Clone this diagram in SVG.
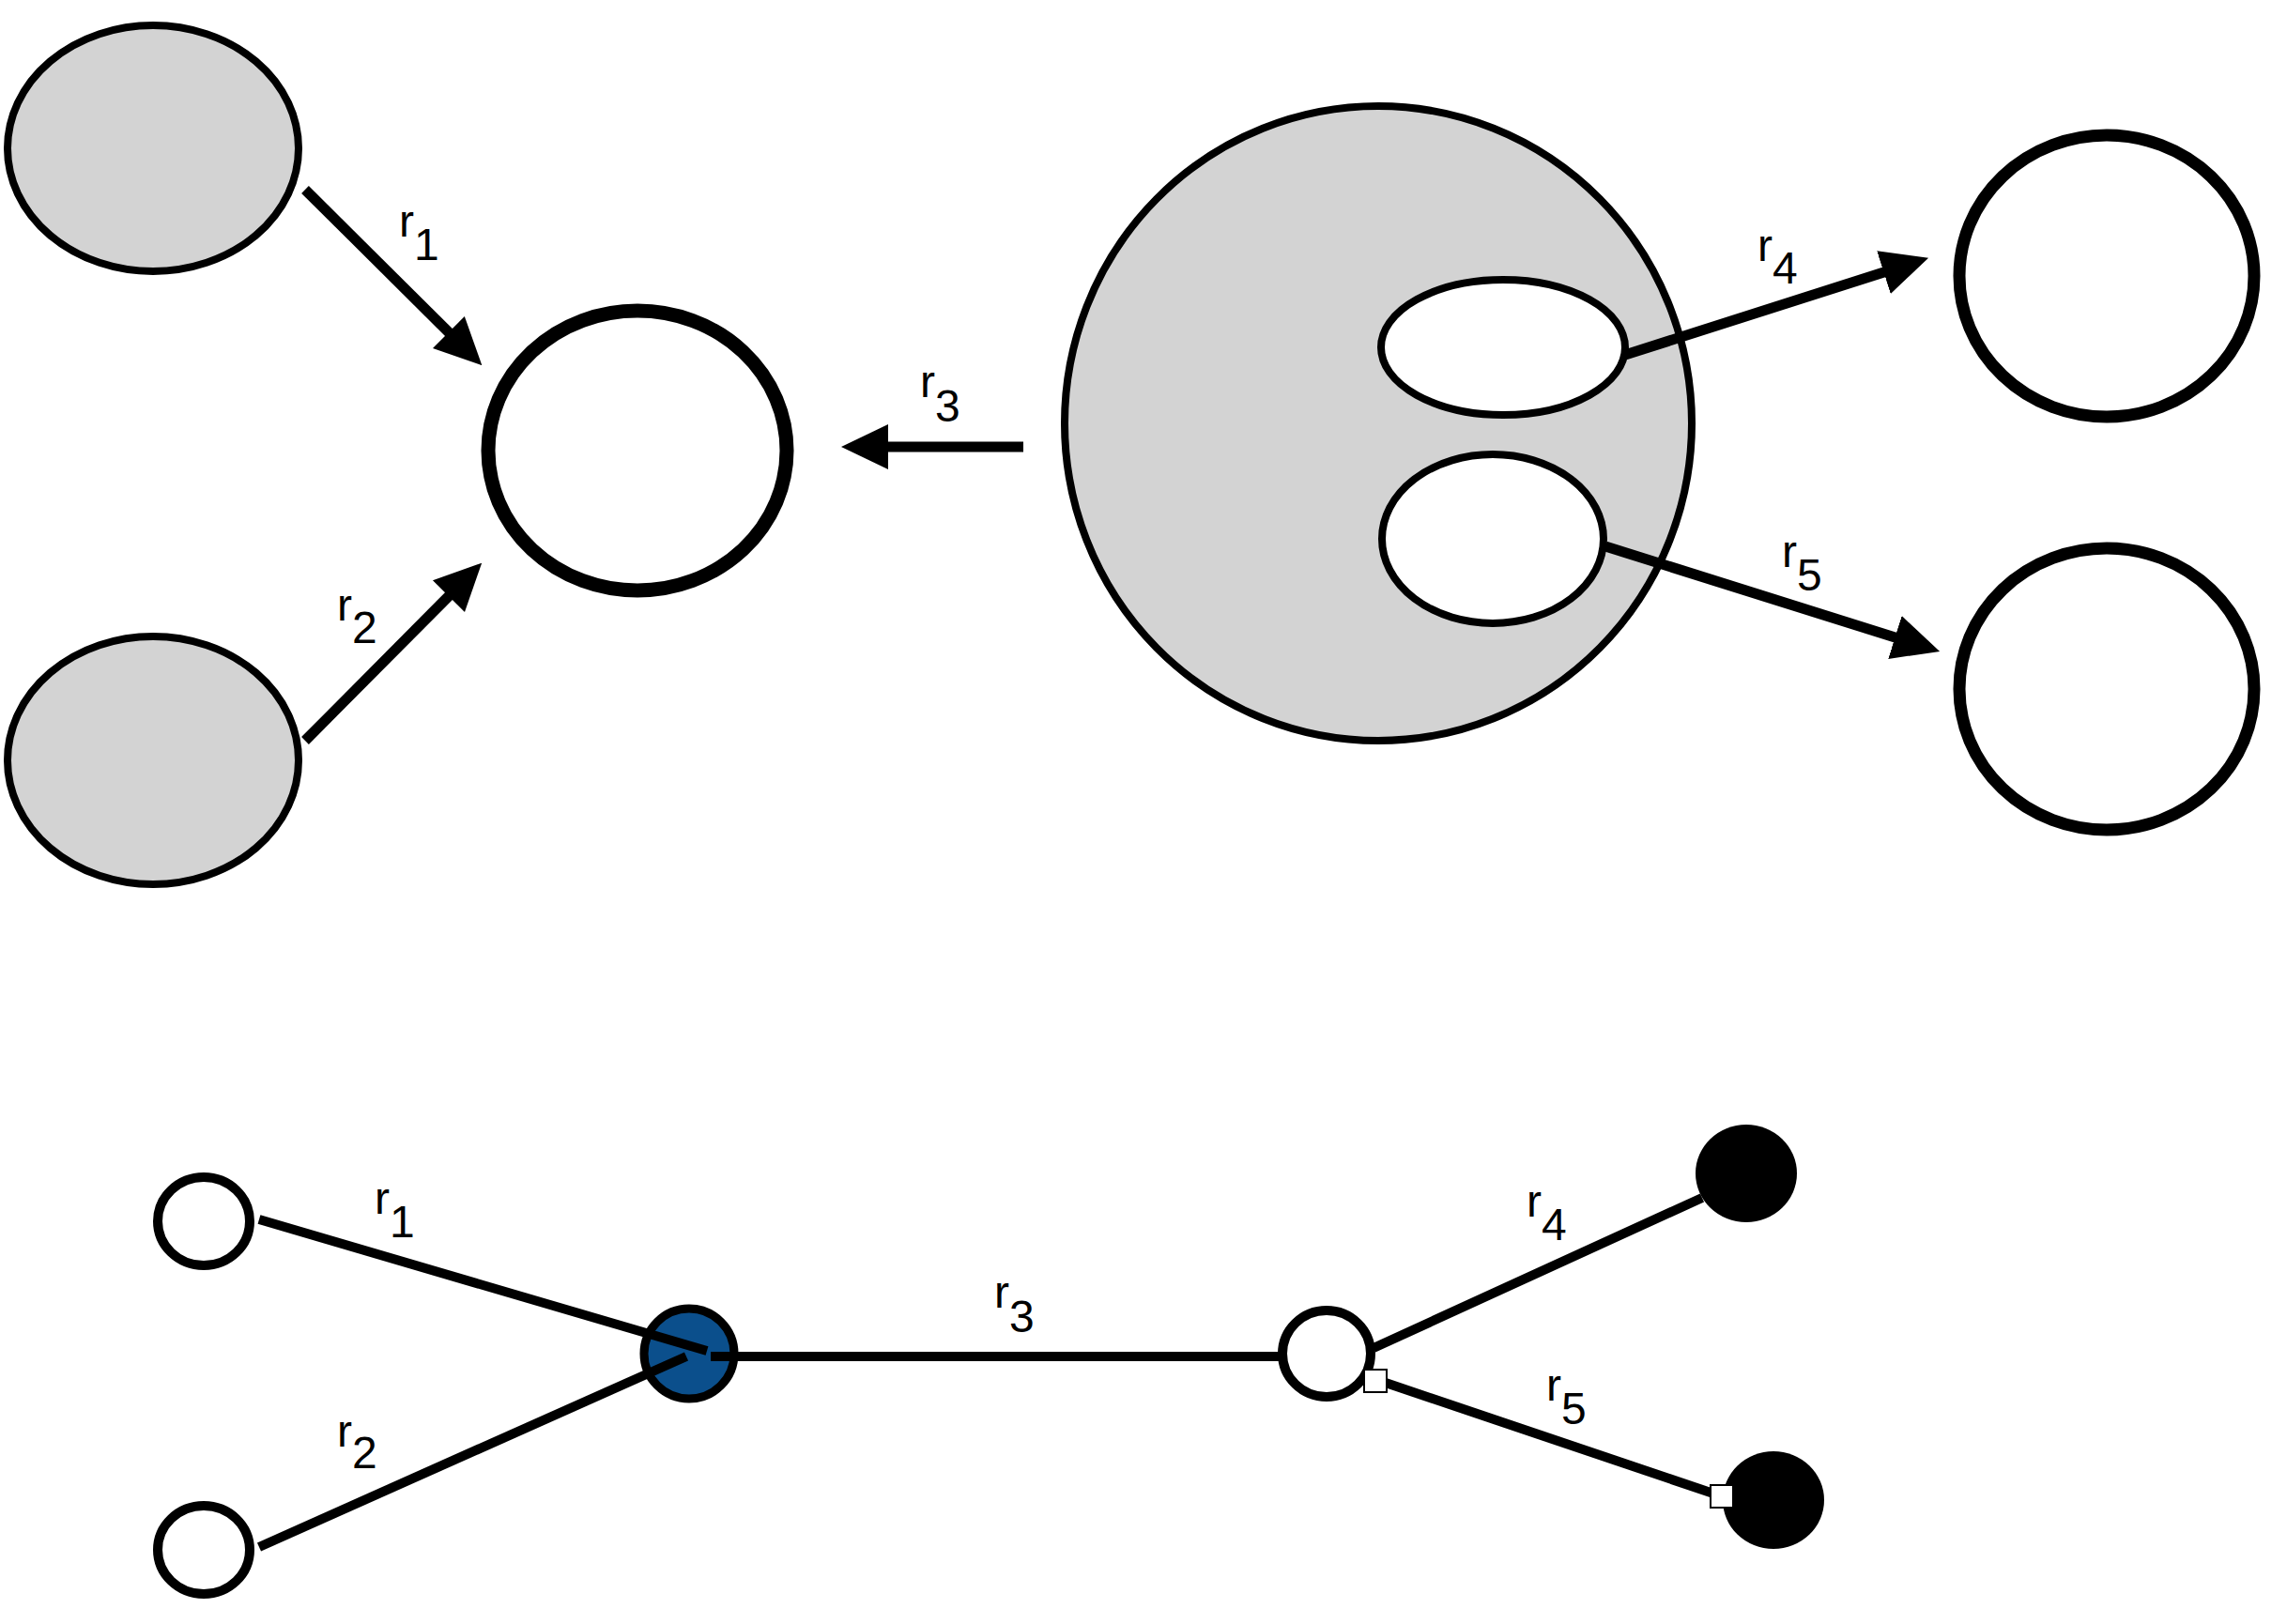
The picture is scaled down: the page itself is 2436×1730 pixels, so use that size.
<svg xmlns="http://www.w3.org/2000/svg" width="2436" height="1730" viewBox="0 0 2436 1730">
<style>
.bg{fill:#fff}
.gray{fill:#d3d3d3;stroke:#000;stroke-width:8}
.white{fill:#fff;stroke:#000;stroke-width:8}
.bold{fill:#fff;stroke:#000;stroke-width:15}
.bold2{fill:#fff;stroke:#000;stroke-width:13}
.small{fill:#fff;stroke:#000;stroke-width:10}
.blue{fill:#0b4f8c;stroke:#000;stroke-width:9}
.black{fill:#000;stroke:none}
.arrow{stroke:#000;stroke-width:11;fill:none;marker-end:url(#head)}
.edge{stroke:#000;stroke-width:10;fill:none}
.port{fill:#fff;stroke:#000;stroke-width:2}
.lbl{font-family:"Liberation Sans",Arial,sans-serif;font-size:48px;fill:#000}
</style>
<defs>
<marker id="head" markerUnits="userSpaceOnUse" markerWidth="50" markerHeight="50" viewBox="0 0 50 50" refX="10" refY="25" orient="auto">
<path d="M0,1 L50,25 L0,49 z" fill="#000"/>
</marker>
</defs>
<rect class="bg" x="0" y="0" width="2436" height="1730"/>

<!-- top diagram nodes -->
<g id="top-src1"><ellipse class="gray" cx="163" cy="158" rx="155" ry="131"/></g>
<g id="top-src2"><ellipse class="gray" cx="163" cy="810" rx="155" ry="132"/></g>
<g id="top-mid"><ellipse class="bold" cx="679" cy="480" rx="159" ry="149"/></g>
<g id="top-container">
<ellipse class="gray" cx="1468" cy="451" rx="334" ry="338"/>
<g id="top-inner1"><ellipse class="white" cx="1601" cy="370" rx="130" ry="72"/></g>
<g id="top-inner2"><ellipse class="white" cx="1590" cy="574" rx="118" ry="90"/></g>
</g>
<g id="top-dst1"><ellipse class="bold2" cx="2244" cy="294" rx="157" ry="150"/></g>
<g id="top-dst2"><ellipse class="bold2" cx="2244" cy="734" rx="157" ry="150"/></g>

<!-- top connectors -->
<g id="top-connectors">
<line class="arrow" x1="325" y1="202" x2="485" y2="361"/>
<line class="arrow" x1="325" y1="789" x2="485" y2="628"/>
<line class="arrow" x1="1090" y1="476" x2="936" y2="476"/>
<line class="arrow" x1="1731" y1="378" x2="2016" y2="287"/>
<line class="arrow" x1="1710" y1="582" x2="2028" y2="682"/>
</g>

<!-- top labels -->
<g id="top-labels">
<text class="lbl" x="425" y="252">r<tspan dy="25">1</tspan></text>
<text class="lbl" x="359" y="661">r<tspan dy="24">2</tspan></text>
<text class="lbl" x="980" y="423">r<tspan dy="26">3</tspan></text>
<text class="lbl" x="1872" y="278">r<tspan dy="24">4</tspan></text>
<text class="lbl" x="1898" y="604">r<tspan dy="25">5</tspan></text>
</g>

<!-- bottom diagram nodes -->
<g id="bot-src1"><ellipse class="small" cx="217" cy="1301" rx="49" ry="47"/></g>
<g id="bot-src2"><ellipse class="small" cx="217" cy="1651" rx="49" ry="47"/></g>
<g id="bot-hub"><ellipse class="blue" cx="734" cy="1442" rx="48" ry="48"/></g>
<g id="bot-mid"><ellipse class="small" cx="1413" cy="1442" rx="47" ry="46"/></g>
<g id="bot-dst1"><ellipse class="black" cx="1860" cy="1250" rx="54" ry="52"/></g>
<g id="bot-dst2"><ellipse class="black" cx="1889" cy="1598" rx="54" ry="52"/></g>

<!-- bottom connectors -->
<g id="bot-connectors">
<line class="edge" x1="276" y1="1299" x2="753" y2="1439"/>
<line class="edge" x1="276" y1="1648" x2="731" y2="1445"/>
<line class="edge" x1="757" y1="1445" x2="1366" y2="1445"/>
<line class="edge" x1="1463" y1="1436" x2="1813" y2="1276"/>
<line class="edge" x1="1470" y1="1471" x2="1828" y2="1592"/>
<rect class="port" x="1453" y="1459" width="24" height="24"/>
<rect class="port" x="1822" y="1582" width="24" height="24"/>
</g>

<!-- bottom labels -->
<g id="bot-labels">
<text class="lbl" x="399" y="1293">r<tspan dy="25">1</tspan></text>
<text class="lbl" x="359" y="1541">r<tspan dy="23">2</tspan></text>
<text class="lbl" x="1059" y="1393">r<tspan dy="26">3</tspan></text>
<text class="lbl" x="1626" y="1296">r<tspan dy="25">4</tspan></text>
<text class="lbl" x="1647" y="1492">r<tspan dy="25">5</tspan></text>
</g>
</svg>
